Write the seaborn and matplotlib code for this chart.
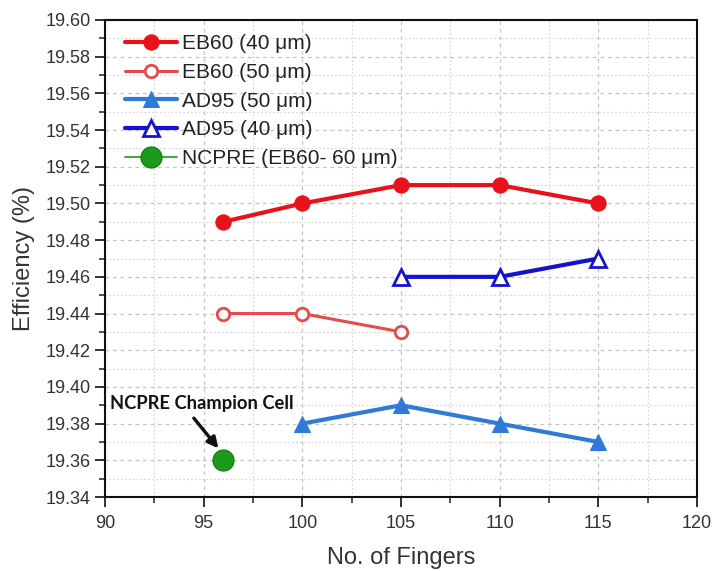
import matplotlib
matplotlib.use("Agg")
import matplotlib.pyplot as plt
import seaborn as sns
import pandas as pd
from matplotlib.ticker import MultipleLocator, FormatStrFormatter

sns.set_theme(style="white")
plt.rcParams['font.family'] = ['Liberation Sans', 'DejaVu Sans']

eb60_40_x = [96, 100, 105, 110, 115]
eb60_40_y = [19.49, 19.50, 19.51, 19.51, 19.50]
eb60_50_x = [96, 100, 105]
eb60_50_y = [19.44, 19.44, 19.43]
ad95_50_x = [100, 105, 110, 115]
ad95_50_y = [19.38, 19.39, 19.38, 19.37]
ad95_40_x = [105, 110, 115]
ad95_40_y = [19.46, 19.46, 19.47]
ncpre_x = [96]
ncpre_y = [19.36]

labels = ["EB60 (40 \u03bcm)", "EB60 (50 \u03bcm)", "AD95 (50 \u03bcm)",
          "AD95 (40 \u03bcm)", "NCPRE (EB60- 60 \u03bcm)"]

fig = plt.figure(figsize=(7.15, 5.71), dpi=100)
L, R, T, B = 105, 697, 20, 497
ax = fig.add_axes([L / 715, 1 - B / 571, (R - L) / 715, (B - T) / 571])

styles = [
    (eb60_40_x, eb60_40_y, dict(color="#e8121a", marker="o", markersize=11,
                                markerfacecolor="#e8121a", markeredgecolor="#e8121a", linewidth=3)),
    (eb60_50_x, eb60_50_y, dict(color="#e84a4a", marker="o", markersize=9,
                                markerfacecolor="white", markeredgecolor="#e84a4a",
                                markeredgewidth=2, linewidth=2.2)),
    (ad95_50_x, ad95_50_y, dict(color="#2f7ad6", marker="^", markersize=11,
                                markerfacecolor="#2f7ad6", markeredgecolor="#2f7ad6", linewidth=3)),
    (ad95_40_x, ad95_40_y, dict(color="#1414d0", marker="^", markersize=11,
                                markerfacecolor="white", markeredgecolor="#1414d0",
                                markeredgewidth=2, linewidth=3)),
    (ncpre_x, ncpre_y, dict(color="#1c9a1c", marker="o", markersize=15,
                            markerfacecolor="#1c9a1c", markeredgecolor="#158015",
                            markeredgewidth=1, linewidth=1.2)),
]

for (xs, ys, st), lab in zip(styles, labels):
    df = pd.DataFrame({"x": xs, "y": ys})
    sns.lineplot(data=df, x="x", y="y", ax=ax, label=lab, legend=False, **st)

ax.set_xlim(90, 120)
ax.set_ylim(19.34, 19.60)
ax.xaxis.set_major_locator(MultipleLocator(5))
ax.xaxis.set_minor_locator(MultipleLocator(2.5))
ax.yaxis.set_major_locator(MultipleLocator(0.02))
ax.yaxis.set_minor_locator(MultipleLocator(0.01))
ax.yaxis.set_major_formatter(FormatStrFormatter('%.2f'))
ax.grid(True, which="major", linestyle=(0, (3, 3)), color="#c4c4c4", linewidth=0.9)
ax.grid(True, which="minor", linestyle=(0, (1.5, 2)), color="#d4d4d4", linewidth=0.8)
ax.set_axisbelow(True)
ax.tick_params(which="major", direction="out", length=7, width=1.3, labelsize=13,
               colors="#222222", labelcolor="#333333", bottom=True, left=True, pad=3)
ax.tick_params(which="minor", direction="out", length=4, width=1.1, colors="#222222",
               bottom=True, left=True)
ax.tick_params(axis="x", pad=6)
for s in ax.spines.values():
    s.set_color("#111111")
    s.set_linewidth(1.5)

ax.set_xlabel("No. of Fingers", fontsize=17, color="#333333", labelpad=11)
ax.set_ylabel("Efficiency (%)", fontsize=17, color="#333333", labelpad=8)

handles = ax.get_lines()[:5]
leg = ax.legend(handles, labels, loc="upper left", frameon=False, fontsize=15,
                handlelength=2.5, handletextpad=0.25, labelspacing=0.47,
                borderaxespad=0.0, bbox_to_anchor=(0.02, 0.988))
for t in leg.get_texts():
    t.set_color("#222222")

ax.text(90.25, 19.3907, "NCPRE Champion Cell", fontsize=13.2, fontweight="bold",
        family=["Lato", "DejaVu Sans"], color="#111111", va="center", ha="left")
ax.annotate("", xy=(95.75, 19.3665), xytext=(94.5, 19.383),
            arrowprops=dict(arrowstyle="-|>", color="#111111", lw=2.4,
                            shrinkA=0, shrinkB=0, mutation_scale=16))

fig.savefig("out.png", dpi=100)
